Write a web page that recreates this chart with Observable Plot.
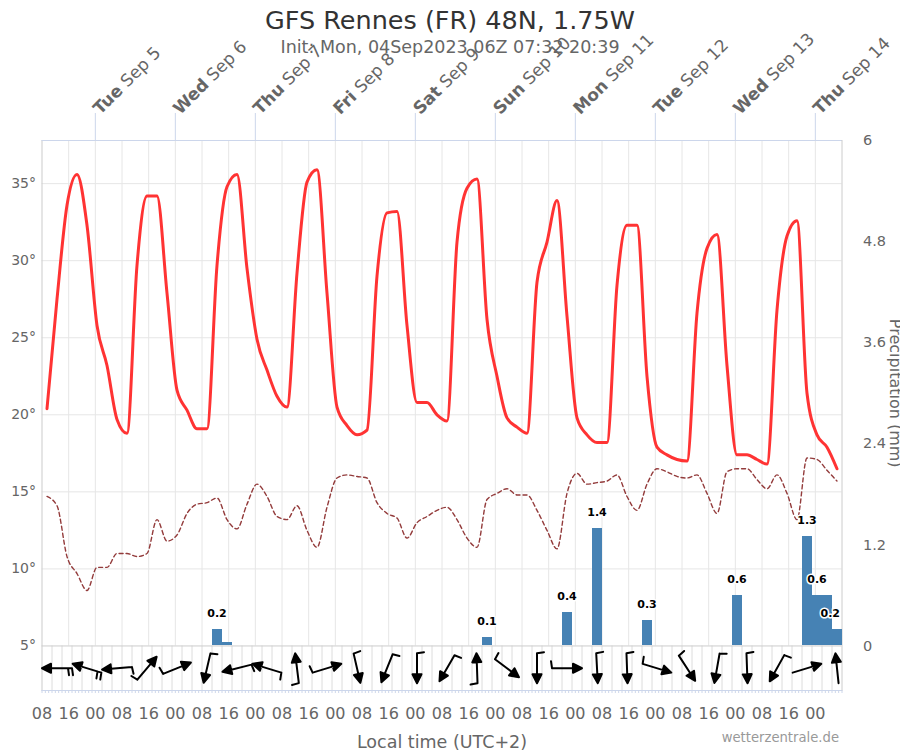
<!DOCTYPE html>
<html>
<head>
<meta charset="utf-8">
<script src="https://cdn.jsdelivr.net/npm/d3@7"></script>
<script src="https://cdn.jsdelivr.net/npm/@observablehq/plot@0.6"></script>
<style>
  body { margin: 0; background: #fff; font-family: "DejaVu Sans", sans-serif; }
  #wrap { position: relative; width: 900px; height: 750px; overflow: hidden; }
  #title { position: absolute; left: 0; top: 4px; width: 900px; text-align: center; font-size: 25.5px; line-height: 32px; color: #333; }
  #subtitle { position: absolute; left: 0; top: 37px; width: 900px; text-align: center; font-size: 17.5px; line-height: 20px; color: #666; }
  #chart { position: absolute; left: 0; top: 56px; }
</style>
</head>
<body>
<div id="wrap">
  <div id="title"></div>
  <div id="subtitle"></div>
  <div id="chart"></div>
</div>
<script>
// ---------------- data ----------------
const title = "GFS Rennes (FR) 48N, 1.75W";
const subtitle = "Init: Mon, 04Sep2023 06Z 07:32 20:39";
const xLabel = "Local time (UTC+2)";
const precipLabel = "Precipitation (mm)";
const credit = "wetterzentrale.de";

// 3-hourly values, first at 09:30 local on Mon Sep 4
const temperature = [
  20.4, 27.5, 33.6, 35.6, 32.3, 25.8, 23.2, 19.7,
  18.8, 29.7, 34.2, 34.2, 27.9, 21.6, 20.3, 19.1,
  19.1, 29.7, 34.8, 35.6, 29.5, 24.9, 22.9, 21.2,
  20.5, 29.2, 35.1, 35.9, 27.9, 20.5, 19.3, 18.7,
  19.0, 29.0, 33.1, 33.2, 25.8, 20.8, 20.8, 20.0,
  19.6, 31.2, 34.7, 35.3, 26.2, 22.5, 19.8, 19.2,
  18.8, 28.6, 31.2, 33.9, 26.4, 19.8, 18.7, 18.2,
  18.2, 28.4, 32.3, 32.3, 22.5, 17.9, 17.4, 17.1,
  17.0, 26.6, 30.8, 31.7, 23.2, 17.4, 17.4, 17.1,
  16.8, 26.8, 31.6, 32.6, 21.4, 18.7, 17.9, 16.5
];
const dewPoint = [
  14.7, 14.1, 10.8, 9.7, 8.6, 10.1, 10.1, 11.0,
  11.0, 10.8, 11.0, 13.2, 11.8, 12.2, 13.6, 14.2,
  14.3, 14.6, 13.2, 12.6, 14.2, 15.5, 14.7, 13.4,
  13.2, 14.1, 12.5, 11.4, 14.0, 15.9, 16.1, 16.0,
  15.9, 14.3, 13.6, 13.3, 12.0, 13.0, 13.4, 13.8,
  14.0, 13.2, 12.0, 11.4, 14.5, 14.9, 15.2, 14.8,
  14.8, 13.8, 12.5, 11.3, 14.9, 16.2, 15.5, 15.6,
  15.7, 16.1, 14.7, 13.8, 15.5, 16.5, 16.3, 16.0,
  15.9, 16.1, 14.9, 13.6, 16.3, 16.5, 16.5, 15.8,
  15.2, 16.1, 14.9, 13.2, 17.2, 17.1, 16.4, 15.7
];
const precipitation = [
  0, 0, 0, 0, 0, 0, 0, 0,
  0, 0, 0, 0, 0, 0, 0, 0,
  0, 0.2, 0.04, 0, 0, 0, 0, 0,
  0, 0, 0, 0, 0, 0, 0, 0,
  0, 0, 0, 0, 0, 0, 0, 0,
  0, 0, 0, 0, 0.1, 0, 0, 0,
  0, 0, 0, 0, 0.4, 0, 0, 1.4,
  0, 0, 0, 0, 0.3, 0, 0, 0,
  0, 0, 0, 0, 0, 0.6, 0, 0,
  0, 0, 0, 0, 1.3, 0.6, 0.6, 0.2
];
// 9-hourly wind: direction the wind comes from (deg) and number of barbs
const windFrom = [90, 107, 85, 220, 248, 13, 76, 107, 173, 253, 347, 22, 0, 30,
                  178, 307, 0, 270, 357, 358, 287, 327, 10, 358, 29, 253, 174];
const windBarbs = [2, 2, 1, 1, 1, 1, 1, 1, 1, 1, 1, 1, 1, 1,
                   1, 1, 1, 1, 1, 1, 1, 1, 1, 1, 1, 0, 0];
const dayLabels = ["Tue Sep 5", "Wed Sep 6", "Thu Sep 7", "Fri Sep 8", "Sat Sep 9",
                   "Sun Sep 10", "Mon Sep 11", "Tue Sep 12", "Wed Sep 13", "Thu Sep 14"];
const tempTicks = [5, 10, 15, 20, 25, 30, 35];
const precipTicks = [0, 1.2, 2.4, 3.6, 4.8, 6];

// ---------------- layout helpers ----------------
document.getElementById("title").textContent = title;
document.getElementById("subtitle").textContent = subtitle;

const spanHours = 240;                       // Mon Sep 4 08:00 -> Thu Sep 14 08:00
const times = temperature.map((_, k) => 1.5 + 3 * k);
const windTimes = windFrom.map((_, j) => 4.5 + 9 * j);
const dayStarts = dayLabels.map((_, i) => 16 + 24 * i);
const hourTicks = d3.range(0, spanHours, 8);
const cellEdges = d3.range(3, spanHours, 3);
const minorTicks = d3.range(0, spanHours + 1, 1);

const tMin = 5, tTop = 37.8, pMax = 6, stripBottom = 2.11;
const pToT = p => tMin + p * (tTop - tMin) / pMax;
const tToP = t => (t - tMin) * pMax / (tTop - tMin);
const stripMid = (tMin + stripBottom) / 2;

const rows = times.map((h, k) => ({h, t: temperature[k], td: dewPoint[k], p: precipitation[k]}));
const wind = windTimes.map((h, j) => ({h, from: windFrom[j], barbs: windBarbs[j]}));

// precipitation labels with simple overlap suppression
const labels = [];
for (const r of rows) {
  if (r.p < 0.1) continue;
  const clash = labels.some(l => Math.abs(l.h - r.h) < 6 && Math.abs(l.p - r.p) < 0.17);
  if (!clash) labels.push(r);
}
const fmt1 = v => v.toFixed(1);

function arrowShape(n) {
  return {
    draw(ctx, l) {
      ctx.moveTo(0, 0); ctx.lineTo(0, -l + 6);
      ctx.moveTo(0, -l); ctx.lineTo(-4.5, -l + 9); ctx.lineTo(4.5, -l + 9); ctx.closePath();
      for (let i = 0; i < n; i++) { ctx.moveTo(0, -i * 4); ctx.lineTo(-7, -i * 4 + 1); }
    }
  };
}

function windMarks(custom) {
  return [0, 1, 2].map(n => Plot.vector(wind.filter(d => d.barbs === n), {
    x: "h", y: () => stripMid, length: 30,
    rotate: d => (d.from + 180) % 360, anchor: "middle",
    shape: custom ? arrowShape(n) : "arrow",
    stroke: "black", fill: custom ? "black" : "none", strokeWidth: 2
  }));
}

function build(custom) {
  return Plot.plot({
    width: 900, height: 694,
    marginLeft: 41.5, marginRight: 58.5, marginTop: 84, marginBottom: 60,
    style: {fontFamily: "DejaVu Sans, sans-serif", overflow: "visible", background: "transparent"},
    x: {domain: [0, spanHours], range: [41.5, 841.5]},
    y: {domain: [stripBottom, tTop], range: [634, 84]},
    marks: [
      // grid
      Plot.ruleY(tempTicks.slice(1), {stroke: "#e6e6e6"}),
      Plot.ruleX(hourTicks.slice(1), {y1: tMin, y2: tTop, stroke: "#e6e6e6"}),
      Plot.ruleX(cellEdges, {y1: stripBottom, y2: tMin, stroke: "#dcdcdc"}),
      Plot.ruleY([tMin], {stroke: "#cccccc"}),
      Plot.frame({stroke: "#cccccc"}),
      Plot.ruleY([tTop], {stroke: "#ccd6eb"}),
      Plot.ruleY([stripBottom], {stroke: "#ccd6eb"}),
      // axes
      Plot.axisY(tempTicks, {anchor: "left", tickSize: 0, tickPadding: 6, tickFormat: d => d + "°",
        fontSize: 14, color: "#666", label: null}),
      Plot.axisY(precipTicks.map(pToT), {anchor: "right", tickSize: 0, tickPadding: 21,
        tickFormat: t => String(Math.round(tToP(t) * 10) / 10), fontSize: 14.5, color: "#666", label: null}),
      Plot.axisX(hourTicks, {anchor: "bottom", tickSize: 0, tickPadding: 17,
        tickFormat: h => String((8 + h) % 24).padStart(2, "0"), fontSize: 16, color: "#666", label: null}),
      Plot.axisX(minorTicks, {anchor: "bottom", tickSize: 3, tickFormat: () => "", color: "#ccd6eb", label: null}),
      Plot.axisX(dayStarts, {anchor: "top", tickSize: 28, tickFormat: () => "", color: "#ccd6eb", label: null}),
      Plot.text(dayLabels, {x: dayStarts, text: d => d, frameAnchor: "top", dy: -29, dx: 1,
        rotate: -45, textAnchor: "start", lineAnchor: "middle", fontSize: 17, fill: "#666"}),
      Plot.text([precipLabel], {x: () => spanHours, y: () => (tMin + tTop) / 2, dx: 48, rotate: 90,
        textAnchor: "middle", lineAnchor: "bottom", fontSize: 16, fill: "#666"}),
      Plot.text([xLabel], {frameAnchor: "bottom", dy: 57, fontSize: 17.5, fill: "#666"}),
      Plot.text([credit], {frameAnchor: "bottom-right", dx: -3, dy: 51, textAnchor: "end", fontSize: 13.2, fill: "#999"}),
      // precipitation bars
      Plot.rect(rows.filter(r => r.p > 0), {x1: d => d.h - 1.5, x2: d => d.h + 1.5,
        y1: () => tMin, y2: d => pToT(d.p), fill: "#4682b4", inset: 0, shapeRendering: "crispEdges"}),
      // dew point & temperature
      Plot.line(rows, {x: "h", y: "td", stroke: "#933b3b", strokeWidth: 1.4, strokeDasharray: "4,3", curve: "monotone-x"}),
      Plot.line(rows, {x: "h", y: "t", stroke: "#ff3333", strokeWidth: 3, curve: "monotone-x"}),
      // precipitation labels
      Plot.text(labels.filter(d => d.h < 236), {x: "h", y: d => pToT(d.p), text: d => fmt1(d.p), dy: -16,
        fontSize: 11, fontWeight: "bold", fill: "black", stroke: "white", strokeWidth: 3, paintOrder: "stroke"}),
      Plot.text(labels.filter(d => d.h >= 236), {x: "h", y: d => pToT(d.p), text: d => fmt1(d.p), dy: -16, dx: 3,
        textAnchor: "end", fontSize: 11, fontWeight: "bold", fill: "black", stroke: "white", strokeWidth: 3, paintOrder: "stroke"}),
      // wind arrows
      ...windMarks(custom)
    ]
  });
}

let svg;
try { svg = build(true); } catch (e) { console.error(e); svg = build(false); }

// bold weekday in the day labels
const re = /^(Mon|Tue|Wed|Thu|Fri|Sat|Sun) (.*)$/;
svg.querySelectorAll("text").forEach(t => {
  if (t.children.length) return;
  const m = re.exec(t.textContent);
  if (!m) return;
  t.textContent = "";
  const ns = "http://www.w3.org/2000/svg";
  const a = document.createElementNS(ns, "tspan");
  a.setAttribute("font-weight", "bold");
  a.textContent = m[1];
  const b = document.createElementNS(ns, "tspan");
  b.textContent = " " + m[2];
  t.append(a, b);
});
document.getElementById("chart").append(svg);
</script>
</body>
</html>
